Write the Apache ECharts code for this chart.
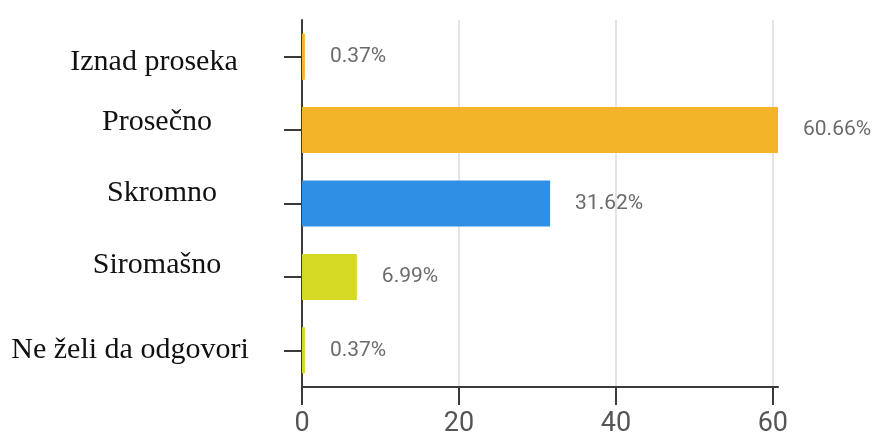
<!DOCTYPE html>
<html>
<head>
<meta charset="utf-8">
<script src="https://cdn.jsdelivr.net/npm/echarts@6/dist/echarts.min.js"></script>
<style>
  html, body { margin: 0; padding: 0; background: #ffffff; }
  #chart { width: 877px; height: 435px; }
</style>
</head>
<body>
<div id="chart"></div>
<script>
// Survey answers, top to bottom
const categories = ['Iznad proseka', 'Prosečno', 'Skromno', 'Siromašno', 'Ne želi da odgovori'];
// Share of respondents, percent
const shares = [0.37, 60.66, 31.62, 6.99, 0.37];
const barColors = ['#f4b42a', '#f4b42a', '#2f8fe5', '#d4d923', '#d4d923'];
// Value axis ticks
const tickValues = [0, 20, 40, 60];

// Small per-label nudges for the category names: [dx, dy] in px (dy < 0 moves up)
const labelNudge = [[-3, 5], [0, -8], [5, -10], [0, -12], [-27, 0]];

const serifFont = '"Liberation Serif", "Times New Roman", serif';

const axisCategories = categories.map((name, i) => {
  const dx = labelNudge[i][0];
  return {
    value: name,
    textStyle: {
      align: 'center',
      padding: [0, dx < 0 ? -2 * dx : 0, 0, dx > 0 ? 2 * dx : 0]
    }
  };
});

// A spacer line above or below the name shifts the centred block vertically
function categoryLabel(value, index) {
  const dy = labelNudge[index][1];
  if (dy < 0) return '{t|' + value + '}\n{s' + index + '| }';
  if (dy > 0) return '{s' + index + '| }\n{t|' + value + '}';
  return '{t|' + value + '}';
}

const richStyles = {
  t: { fontFamily: serifFont, fontSize: 30, color: '#111111', lineHeight: 34, align: 'center' }
};
labelNudge.forEach(([, dy], i) => {
  richStyles['s' + i] = { fontSize: 1, lineHeight: Math.max(1, 2 * Math.abs(dy)), height: Math.max(1, 2 * Math.abs(dy)) };
});

const chart = echarts.init(document.getElementById('chart'), null, { renderer: 'canvas' });

chart.setOption({
  backgroundColor: '#ffffff',
  animation: false,
  grid: { left: 302, right: 99, top: 20, bottom: 48, containLabel: false, outerBoundsMode: 'none' },
  xAxis: {
    type: 'value',
    min: 0,
    max: 'dataMax',
    interval: 20,
    axisLine: { show: true, lineStyle: { color: '#3a3a3a', width: 2 } },
    axisTick: { show: true, length: 18, customValues: tickValues, lineStyle: { color: '#3a3a3a', width: 2 } },
    axisLabel: {
      customValues: tickValues,
      margin: 24,
      fontFamily: 'Roboto, sans-serif',
      fontSize: 27,
      color: '#555555'
    },
    splitLine: { show: true, lineStyle: { color: '#e4e4e4', width: 2 } }
  },
  yAxis: {
    type: 'category',
    inverse: true,
    data: axisCategories,
    axisLine: { show: true, lineStyle: { color: '#3a3a3a', width: 2 } },
    axisTick: { show: true, alignWithLabel: true, length: 18, lineStyle: { color: '#3a3a3a', width: 2 } },
    axisLabel: {
      margin: 145,
      align: 'center',
      fontFamily: serifFont,
      fontSize: 30,
      color: '#111111',
      formatter: categoryLabel,
      rich: richStyles
    },
    splitLine: { show: false }
  },
  series: [{
    type: 'bar',
    barWidth: 46,
    data: shares.map((v, i) => ({ value: v, itemStyle: { color: barColors[i] } })),
    label: {
      show: true,
      position: 'right',
      distance: 25,
      formatter: p => p.value.toFixed(2) + '%',
      fontFamily: 'Roboto, sans-serif',
      fontSize: 21,
      color: '#6b6b6b'
    }
  }]
});
</script>
</body>
</html>
